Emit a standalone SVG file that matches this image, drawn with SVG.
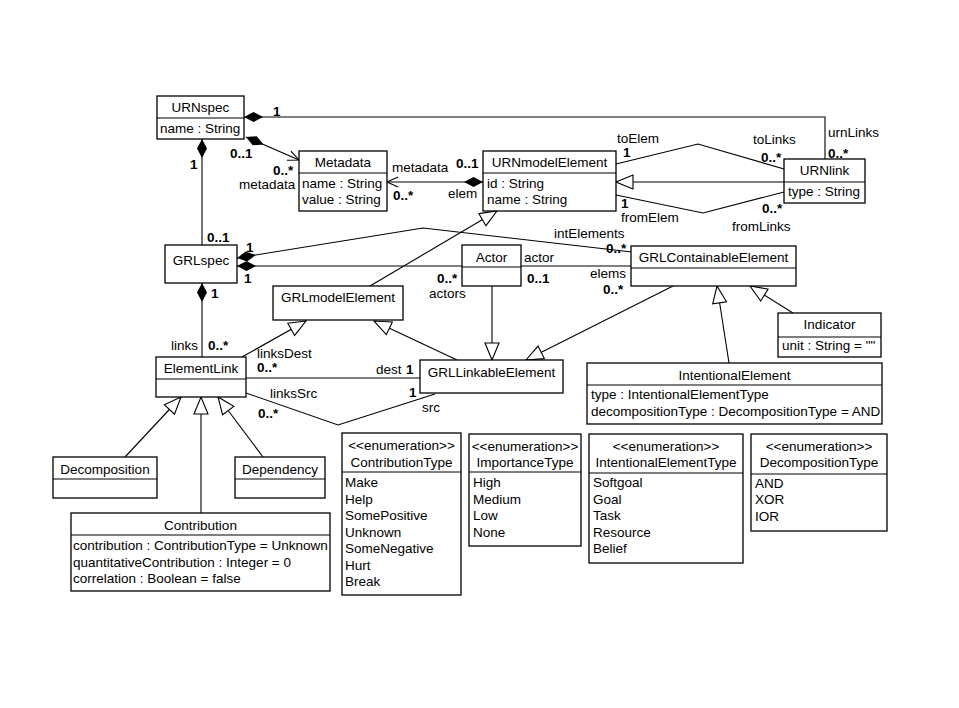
<svg xmlns="http://www.w3.org/2000/svg" width="959" height="708" viewBox="0 0 959 708">
<style>
text{font-family:"Liberation Sans",Arial,Helvetica,sans-serif;font-size:13.5px;fill:#000}
.n{text-anchor:middle}
.m{font-weight:bold}
.box rect{fill:#fff;stroke:#000;stroke-width:1.3}
.box line{stroke:#000;stroke-width:1.2}
#connectors path{fill:none;stroke:#000;stroke-width:1.1}
.gen{marker-end:url(#gen)}
</style>
<defs>
<marker id="gen" markerUnits="userSpaceOnUse" viewBox="-1 -1 19 16" refX="17" refY="7" markerWidth="19" markerHeight="16" orient="auto">
<path d="M0,0 L17,7 L0,14 Z" fill="#fff" stroke="#000" stroke-width="1.1"/>
</marker>
<marker id="open" markerUnits="userSpaceOnUse" viewBox="-1 -1 14 12" refX="11" refY="5" markerWidth="14" markerHeight="12" orient="auto">
<path d="M0,0 L11,5 L0,10" fill="none" stroke="#000" stroke-width="1.1"/>
</marker>
<marker id="dia" markerUnits="userSpaceOnUse" viewBox="0 0 20 11" refX="0" refY="5.5" markerWidth="20" markerHeight="11" orient="auto">
<path d="M0,5.5 L9.5,0.5 L19,5.5 L9.5,10.5 Z" fill="#000"/>
</marker>
</defs>
<rect width="959" height="708" fill="#fff"/>

<g id="connectors">
<path d="M244,117 L825,117 L825,159" marker-start="url(#dia)"/>
<path d="M246,137 L299,160" marker-start="url(#dia)" marker-end="url(#open)"/>
<path d="M483,182 L387,182" marker-start="url(#dia)" marker-end="url(#open)"/>
<path d="M202,139 L202,245" marker-start="url(#dia)"/>
<path d="M616,164 L698,144 L784,169"/>
<path d="M616,195 L703,213 L784,192"/>
<path class="gen" d="M784,182 L616,182"/>
<path d="M237,258 L423,228 L632,252" marker-start="url(#dia)"/>
<path d="M237,266 L462,266" marker-start="url(#dia)"/>
<path d="M521,266 L631,266"/>
<path d="M202,283 L202,357" marker-start="url(#dia)"/>
<path class="gen" d="M370,286 L497,211"/>
<path class="gen" d="M242,357 L306,321"/>
<path class="gen" d="M457,360 L374,321"/>
<path class="gen" d="M492,286 L492,360"/>
<path class="gen" d="M673,286 L526,360"/>
<path class="gen" d="M729,363 L717,286"/>
<path class="gen" d="M793,313 L750,286"/>
<path class="gen" d="M125,457 L181,397"/>
<path class="gen" d="M201,513 L201,397"/>
<path class="gen" d="M263,457 L218,397"/>
<path d="M246,378 L420,378"/>
<path d="M246,393 L338,425 L435,394"/>
</g>

<g id="labels">
<text class="m" x="273" y="116">1</text>
<text x="828" y="137">urnLinks</text>
<text class="m" x="828" y="158">0..*</text>
<text class="m" x="230" y="158">0..1</text>
<text class="m" x="273" y="175">0..*</text>
<text x="239" y="189">metadata</text>
<text x="392" y="172">metadata</text>
<text class="m" x="456" y="168">0..1</text>
<text class="m" x="393" y="200">0..*</text>
<text x="448" y="198">elem</text>
<text class="m" x="190" y="169">1</text>
<text class="m" x="207" y="242">0..1</text>
<text x="617" y="143">toElem</text>
<text class="m" x="623" y="157">1</text>
<text x="753" y="144">toLinks</text>
<text class="m" x="761" y="162">0..*</text>
<text class="m" x="621" y="208">1</text>
<text x="621" y="222">fromElem</text>
<text class="m" x="762" y="213">0..*</text>
<text x="732" y="231">fromLinks</text>
<text x="554" y="238">intElements</text>
<text class="m" x="606" y="253">0..*</text>
<text class="m" x="246" y="252">1</text>
<text class="m" x="244" y="283">1</text>
<text class="m" x="437" y="283">0..*</text>
<text x="429" y="298">actors</text>
<text x="524" y="262">actor</text>
<text class="m" x="527" y="283">0..1</text>
<text x="590" y="278">elems</text>
<text class="m" x="603" y="294">0..*</text>
<text class="m" x="211" y="298">1</text>
<text x="171" y="350">links</text>
<text class="m" x="208" y="350">0..*</text>
<text x="257" y="358">linksDest</text>
<text class="m" x="257" y="372">0..*</text>
<text x="376" y="374">dest</text>
<text class="m" x="406" y="374">1</text>
<text x="270" y="398">linksSrc</text>
<text class="m" x="258" y="418">0..*</text>
<text class="m" x="409" y="397">1</text>
<text x="422" y="412">src</text>
</g>

<g id="URNspec" class="box">
<rect x="157" y="96" width="87" height="43"/><line x1="157" y1="118" x2="244" y2="118"/>
<text class="n" x="200.5" y="112">URNspec</text>
<text x="160" y="133">name : String</text>
</g>
<g id="Metadata" class="box">
<rect x="299" y="151" width="88" height="60"/><line x1="299" y1="173" x2="387" y2="173"/>
<text class="n" x="343" y="167">Metadata</text>
<text x="302" y="188">name : String</text>
<text x="302" y="204">value : String</text>
</g>
<g id="URNmodelElement" class="box">
<rect x="483" y="151" width="133" height="60"/><line x1="483" y1="173" x2="616" y2="173"/>
<text class="n" x="549.5" y="167">URNmodelElement</text>
<text x="487" y="188">id : String</text>
<text x="487" y="204">name : String</text>
</g>
<g id="URNlink" class="box">
<rect x="784" y="159" width="81" height="44"/><line x1="784" y1="182" x2="865" y2="182"/>
<text class="n" x="824.5" y="175">URNlink</text>
<text x="788" y="196">type : String</text>
</g>
<g id="GRLspec" class="box">
<rect x="165" y="245" width="72" height="38"/>
<text class="n" x="201" y="265">GRLspec</text>
</g>
<g id="GRLmodelElement" class="box">
<rect x="273" y="286" width="130" height="34"/>
<text class="n" x="338" y="302">GRLmodelElement</text>
</g>
<g id="Actor" class="box">
<rect x="462" y="245" width="59" height="41"/><line x1="462" y1="267" x2="521" y2="267"/>
<text class="n" x="491.5" y="262">Actor</text>
</g>
<g id="GRLContainableElement" class="box">
<rect x="631" y="246" width="165" height="40"/><line x1="631" y1="268" x2="796" y2="268"/>
<text class="n" x="713.5" y="262">GRLContainableElement</text>
</g>
<g id="Indicator" class="box">
<rect x="778" y="313" width="103" height="44"/><line x1="778" y1="337" x2="881" y2="337"/>
<text class="n" x="829.5" y="329">Indicator</text>
<text x="782" y="350">unit : String = ""</text>
</g>
<g id="ElementLink" class="box">
<rect x="156" y="357" width="90" height="40"/><line x1="156" y1="379" x2="246" y2="379"/>
<text class="n" x="201" y="373">ElementLink</text>
</g>
<g id="GRLLinkableElement" class="box">
<rect x="420" y="360" width="143" height="33"/>
<text class="n" x="491.5" y="377">GRLLinkableElement</text>
</g>
<g id="IntentionalElement" class="box">
<rect x="587" y="363" width="295" height="61"/><line x1="587" y1="385" x2="882" y2="385"/>
<text class="n" x="734.5" y="380">IntentionalElement</text>
<text x="591" y="399">type : IntentionalElementType</text>
<text x="591" y="416">decompositionType : DecompositionType = AND</text>
</g>
<g id="Decomposition" class="box">
<rect x="53" y="457" width="104" height="41"/><line x1="53" y1="479" x2="157" y2="479"/>
<text class="n" x="105" y="474">Decomposition</text>
</g>
<g id="Dependency" class="box">
<rect x="235" y="457" width="90" height="41"/><line x1="235" y1="479" x2="325" y2="479"/>
<text class="n" x="280" y="474">Dependency</text>
</g>
<g id="Contribution" class="box">
<rect x="71" y="513" width="259" height="78"/><line x1="71" y1="535" x2="330" y2="535"/>
<text class="n" x="200.5" y="530">Contribution</text>
<text x="73" y="550">contribution : ContributionType = Unknown</text>
<text x="73" y="567">quantitativeContribution : Integer = 0</text>
<text x="73" y="583">correlation : Boolean = false</text>
</g>
<g id="ContributionType" class="box">
<rect x="342" y="433" width="119" height="162"/><line x1="342" y1="472" x2="461" y2="472"/>
<text class="n" x="401.5" y="450" font-size="13">&lt;&lt;enumeration&gt;&gt;</text>
<text class="n" x="401.5" y="467">ContributionType</text>
<text x="345" y="487">Make</text>
<text x="345" y="503.5">Help</text>
<text x="345" y="520">SomePositive</text>
<text x="345" y="536.5">Unknown</text>
<text x="345" y="553">SomeNegative</text>
<text x="345" y="569.5">Hurt</text>
<text x="345" y="586">Break</text>
</g>
<g id="ImportanceType" class="box">
<rect x="469" y="434" width="112" height="112"/><line x1="469" y1="472" x2="581" y2="472"/>
<text class="n" x="525" y="451" font-size="13">&lt;&lt;enumeration&gt;&gt;</text>
<text class="n" x="525" y="467">ImportanceType</text>
<text x="473" y="487">High</text>
<text x="473" y="503.5">Medium</text>
<text x="473" y="520">Low</text>
<text x="473" y="536.5">None</text>
</g>
<g id="IntentionalElementType" class="box">
<rect x="589" y="434" width="154" height="129"/><line x1="589" y1="473" x2="743" y2="473"/>
<text class="n" x="666" y="451" font-size="13">&lt;&lt;enumeration&gt;&gt;</text>
<text class="n" x="666" y="467">IntentionalElementType</text>
<text x="593" y="487">Softgoal</text>
<text x="593" y="503.5">Goal</text>
<text x="593" y="520">Task</text>
<text x="593" y="536.5">Resource</text>
<text x="593" y="553">Belief</text>
</g>
<g id="DecompositionType" class="box">
<rect x="751" y="434" width="136" height="97"/><line x1="751" y1="474" x2="887" y2="474"/>
<text class="n" x="819" y="451" font-size="13">&lt;&lt;enumeration&gt;&gt;</text>
<text class="n" x="819" y="467">DecompositionType</text>
<text x="755" y="488">AND</text>
<text x="755" y="504">XOR</text>
<text x="755" y="520.5">IOR</text>
</g>
</svg>
